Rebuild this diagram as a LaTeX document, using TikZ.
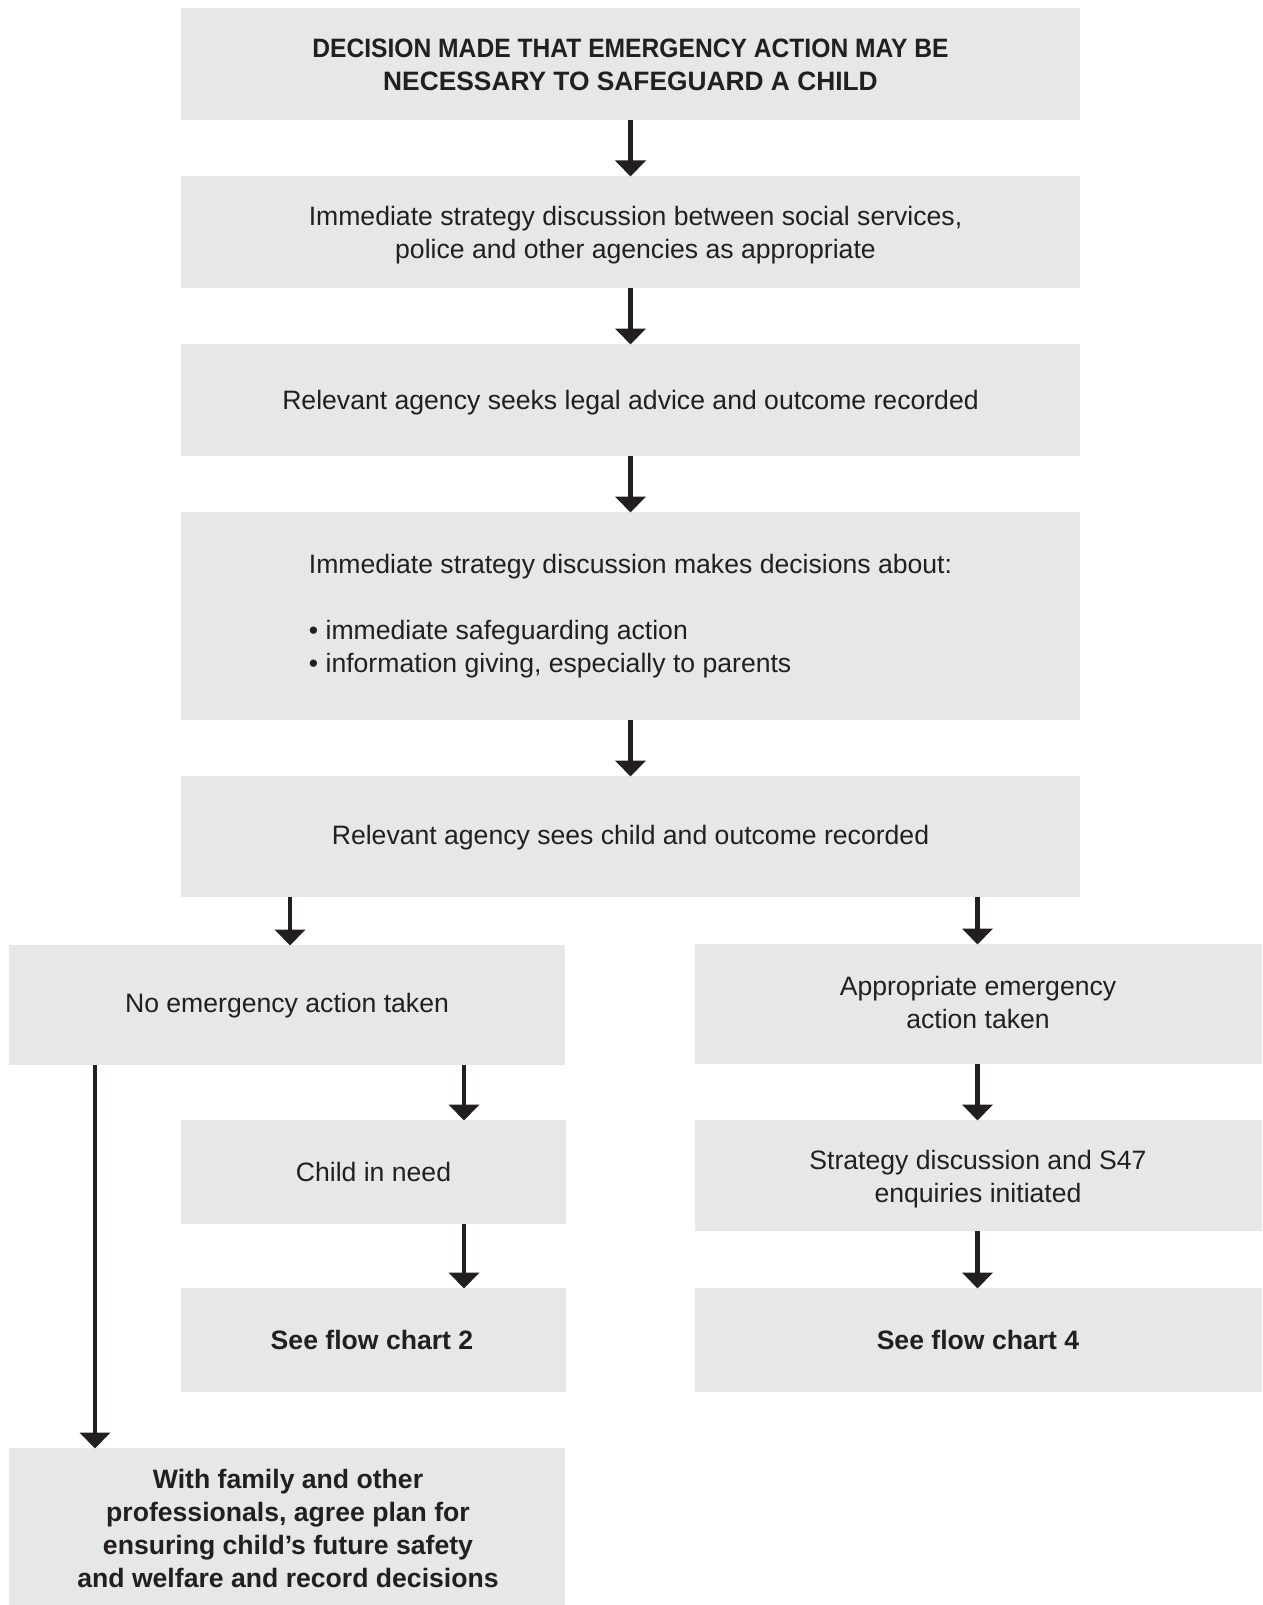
\documentclass[tikz,border=0pt]{standalone}
\usepackage{fontspec}
\usepackage{graphicx}
\setmainfont{Liberation Sans}
\usetikzlibrary{arrows.meta}
\definecolor{boxgray}{HTML}{E6E7E8}
\definecolor{ink}{HTML}{231F20}
\newcommand{\cond}[2]{\scalebox{#1}[1]{#2}}
\begin{document}
\begin{tikzpicture}[x=1pt,y=-1pt,
  every node/.style={font=\fontsize{26.6}{33}\selectfont, text=ink},
  box/.style={fill=boxgray, inner sep=0pt, align=center},
  arr/.style={draw=ink, line width=4.5pt,
    -{Triangle[width=30pt,length=16pt]}, shorten >=-0.5pt}]
\useasboundingbox (0,0) rectangle (1262,1605);

% boxes: (left,top) corner to (right,bottom) corner
\path[box] (181,8) rectangle (1080,120);
\node[box] (b1) at (630.5,65) {\textbf{\cond{0.926}{DECISION MADE THAT EMERGENCY ACTION MAY BE}}\\\textbf{\cond{0.99}{NECESSARY TO SAFEGUARD A CHILD}}};
\coordinate (b1s) at (630.5,120);

\path[box] (181,176) rectangle (1080,288);
\node (b2) at (635.5,235) [align=center] {Immediate strategy discussion between social services,\\police and other agencies as appropriate};
\coordinate (b2n) at (630.5,176);
\coordinate (b2s) at (630.5,288);

\path[box] (181,344) rectangle (1080,456);
\node (b3) at (630.5,403) {Relevant agency seeks legal advice and outcome recorded};
\coordinate (b3n) at (630.5,344);
\coordinate (b3s) at (630.5,456);

\path[box] (181,512) rectangle (1080,720);
\node (b4) at (630.5,616) [align=left] {Immediate strategy discussion makes decisions about:\\[33pt]%
\textbullet\ immediate safeguarding action\\\textbullet\ information giving, especially to parents};
\coordinate (b4n) at (630.5,512);
\coordinate (b4s) at (630.5,720);

\path[box] (181,776) rectangle (1080,897);
\node (b5) at (630.5,838) {Relevant agency sees child and outcome recorded};
\coordinate (b5n) at (630.5,776);
\coordinate (b5sl) at (290,897);
\coordinate (b5sr) at (977.5,897);

\path[box] (9,945) rectangle (565,1065);
\node (b6) at (287,1006) {No emergency action taken};
\coordinate (b6nl) at (290,945);
\coordinate (b6sl) at (95,1065);
\coordinate (b6sr) at (464,1065);

\path[box] (695,944) rectangle (1262,1064);
\node (b7) at (978,1002) [align=center] {Appropriate emergency\\action taken};
\coordinate (b7n) at (977.5,944);
\coordinate (b7s) at (977.5,1064);

\path[box] (181,1120) rectangle (566,1224);
\node (b8) at (373.5,1172) {Child in need};
\coordinate (b8n) at (464,1120);
\coordinate (b8s) at (464,1224);

\path[box] (695,1120) rectangle (1262,1231);
\node (b9) at (978,1179) [align=center] {Strategy discussion and S47\\enquiries initiated};
\coordinate (b9n) at (977.5,1120);
\coordinate (b9s) at (977.5,1231);

\path[box] (181,1288) rectangle (566,1392);
\node (b10) at (372,1340) {\textbf{See flow chart 2}};
\coordinate (b10n) at (464,1288);

\path[box] (695,1288) rectangle (1262,1392);
\node (b11) at (978,1340) {\textbf{See flow chart 4}};
\coordinate (b11n) at (977.5,1288);

\path[box] (9,1448) rectangle (565,1605);
\node (b12) at (288,1528) [align=center] {\textbf{With family and other}\\\textbf{professionals, agree plan for}\\\textbf{ensuring child’s future safety}\\\textbf{and welfare and record decisions}};
\coordinate (b12n) at (95,1448);

% connectors
\draw[arr] (b1s) -- (b2n);
\draw[arr] (b2s) -- (b3n);
\draw[arr] (b3s) -- (b4n);
\draw[arr] (b4s) -- (b5n);
\draw[arr] (b5sl) -- (b6nl);
\draw[arr] (b5sr) -- (b7n);
\draw[arr] (b6sr) -- (b8n);
\draw[arr] (b6sl) -- (b12n);
\draw[arr] (b7s) -- (b9n);
\draw[arr] (b8s) -- (b10n);
\draw[arr] (b9s) -- (b11n);
\end{tikzpicture}
\end{document}
